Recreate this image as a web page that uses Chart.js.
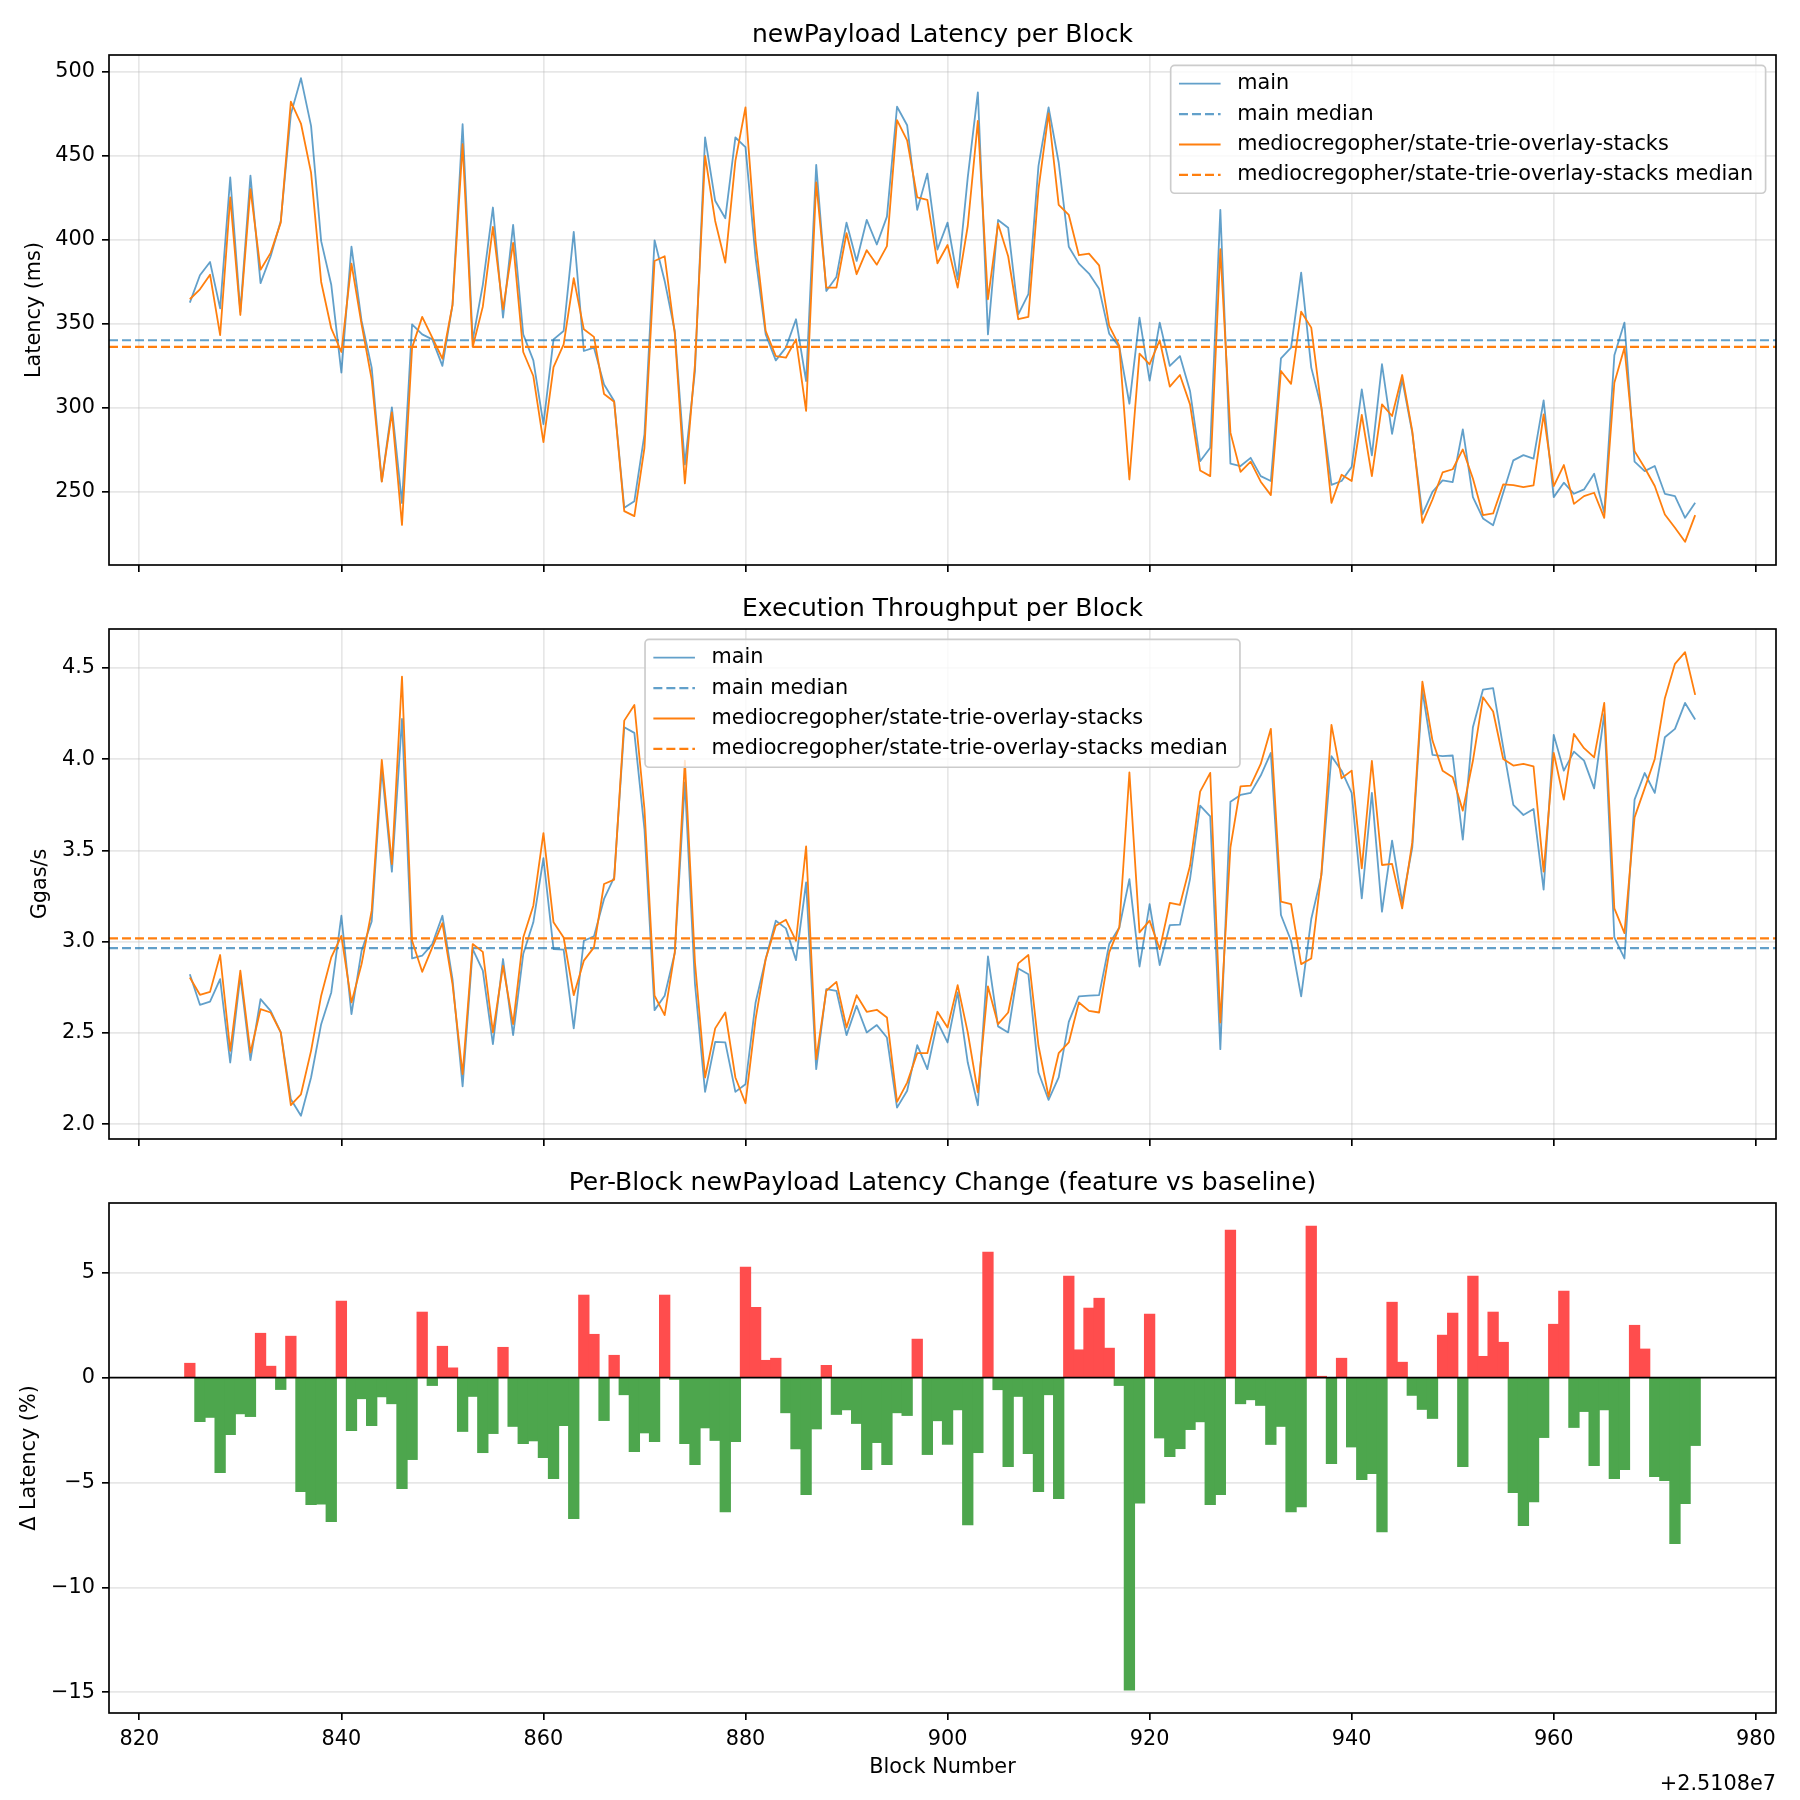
<!DOCTYPE html>
<html>
<head>
<meta charset="utf-8">
<script src="https://cdn.jsdelivr.net/npm/chart.js@4.4.0/dist/chart.umd.min.js"></script>
<style>
  body { margin: 0; background: #fff; }
  #wrap { position: relative; width: 1800px; height: 1800px; background: #fff; }
  canvas { position: absolute; left: 0; }
</style>
</head>
<body>
<div id="wrap">
  <canvas id="lat" width="1800" height="580" style="top:0px"></canvas>
  <canvas id="tput" width="1800" height="580" style="top:580px"></canvas>
  <canvas id="delta" width="1800" height="640" style="top:1160px"></canvas>
</div>
<script>
// block numbers are shown as offsets from 25108000
const blockBase = '+2.5108e7';
const firstBlock = 825;

// newPayload latency (ms)
const latencyMain = [
  362.4, 378.7, 386.6, 359.0, 436.9, 357.0, 438.0, 374.0, 390.0, 411.0,
  474.6, 496.0, 467.6, 399.0, 373.0, 320.7, 395.7, 351.5, 323.7, 256.0,
  300.0, 243.0, 349.5, 343.5, 340.5, 324.7, 361.0, 468.6, 340.0, 373.0,
  419.0, 353.5, 408.7, 343.5, 328.0, 290.0, 340.5, 345.5, 404.5, 333.6,
  335.6, 313.7, 303.8, 240.3, 244.2, 284.0, 399.5, 375.3, 345.5, 266.0,
  321.7, 460.7, 423.0, 412.6, 460.7, 455.0, 389.0, 343.5, 328.0, 335.6,
  352.5, 315.7, 444.4, 369.3, 377.7, 410.0, 387.2, 411.6, 397.0, 413.6,
  479.0, 468.0, 417.6, 439.2, 394.0, 410.0, 376.3, 436.9, 487.5, 343.5,
  411.6, 407.0, 355.4, 367.4, 443.8, 478.6, 445.8, 395.7, 385.6, 379.7,
  370.7, 343.9, 336.0, 302.2, 353.5, 316.0, 350.5, 324.7, 330.6, 309.8,
  268.0, 276.0, 417.6, 266.5, 265.1, 270.0, 259.1, 256.2, 329.2, 335.6,
  380.3, 323.7, 300.0, 253.9, 256.2, 264.6, 310.8, 271.5, 325.7, 284.3,
  316.7, 284.9, 236.3, 249.8, 256.6, 255.6, 286.9, 246.6, 233.9, 229.9,
  249.2, 268.5, 271.6, 269.5, 304.2, 246.6, 255.2, 248.6, 251.2, 260.5,
  237.3, 331.0, 350.5, 267.7, 262.1, 265.1, 248.6, 247.2, 234.3, 243.2
];
const latencyFeat = [
  364.4, 370.3, 379.0, 343.0, 425.0, 355.0, 430.0, 382.0, 392.0, 410.0,
  482.0, 469.0, 439.8, 374.7, 347.0, 333.0, 385.6, 349.5, 316.7, 255.8,
  297.0, 230.0, 335.6, 353.9, 341.5, 329.0, 361.0, 456.7, 336.0, 360.0,
  407.5, 358.4, 398.0, 333.0, 318.7, 279.4, 324.0, 337.6, 377.0, 346.5,
  342.0, 308.0, 303.4, 238.3, 235.3, 276.0, 387.2, 390.0, 344.0, 254.8,
  325.7, 449.8, 411.0, 386.2, 446.8, 478.6, 399.0, 345.5, 330.6, 329.6,
  340.5, 297.9, 433.9, 371.3, 371.3, 403.7, 379.3, 393.6, 385.0, 396.0,
  471.0, 459.0, 425.0, 423.5, 385.8, 396.7, 371.3, 408.0, 470.6, 364.4,
  409.4, 390.0, 352.5, 353.9, 429.9, 475.0, 420.6, 414.6, 390.6, 391.6,
  384.6, 348.5, 336.6, 257.1, 332.0, 325.7, 340.0, 312.4, 319.3, 301.8,
  262.5, 259.1, 394.2, 285.0, 261.7, 267.7, 255.8, 247.8, 321.7, 314.0,
  357.0, 347.5, 300.0, 243.2, 259.9, 256.2, 295.5, 259.1, 301.8, 294.9,
  319.3, 285.9, 231.3, 245.2, 261.3, 263.2, 275.0, 257.7, 235.9, 236.9,
  254.2, 253.8, 252.6, 253.6, 295.9, 253.2, 265.7, 242.6, 247.2, 249.2,
  234.3, 314.7, 335.6, 274.0, 264.1, 253.2, 236.3, 228.4, 220.0, 235.9
];
const latencyMainMedian = 340.0;
const latencyFeatMedian = 336.0;

// execution throughput (Ggas/s)
const tputMain = [
  2.822, 2.654, 2.671, 2.795, 2.338, 2.813, 2.351, 2.685, 2.621, 2.503,
  2.137, 2.046, 2.256, 2.548, 2.722, 3.142, 2.603, 2.950, 3.111, 3.946,
  3.383, 4.220, 2.908, 2.923, 2.987, 3.142, 2.795, 2.207, 2.959, 2.841,
  2.439, 2.905, 2.488, 2.932, 3.106, 3.457, 2.959, 2.956, 2.525, 3.005,
  3.029, 3.234, 3.352, 4.175, 4.144, 3.617, 2.625, 2.704, 2.938, 3.873,
  2.768, 2.177, 2.451, 2.448, 2.177, 2.219, 2.667, 2.905, 3.115, 3.073,
  2.899, 3.325, 2.302, 2.740, 2.731, 2.488, 2.649, 2.503, 2.543, 2.475,
  2.091, 2.183, 2.433, 2.302, 2.561, 2.448, 2.722, 2.338, 2.104, 2.919,
  2.536, 2.503, 2.853, 2.822, 2.283, 2.133, 2.256, 2.561, 2.700, 2.704,
  2.707, 2.987, 3.078, 3.343, 2.864, 3.206, 2.872, 3.091, 3.093, 3.343,
  3.745, 3.687, 2.411, 3.767, 3.804, 3.815, 3.910, 4.034, 3.146, 3.005,
  2.700, 3.124, 3.362, 4.016, 3.937, 3.815, 3.237, 3.815, 3.164, 3.553,
  3.215, 3.517, 4.376, 4.023, 4.016, 4.020, 3.559, 4.175, 4.381, 4.389,
  4.065, 3.749, 3.694, 3.727, 3.285, 4.133, 3.937, 4.041, 3.992, 3.840,
  4.248, 3.023, 2.908, 3.778, 3.924, 3.815, 4.120, 4.166, 4.308, 4.217
];
const tputFeat = [
  2.804, 2.709, 2.725, 2.927, 2.402, 2.841, 2.393, 2.630, 2.612, 2.503,
  2.104, 2.164, 2.402, 2.704, 2.914, 3.032, 2.667, 2.877, 3.170, 3.996,
  3.425, 4.452, 3.005, 2.835, 2.969, 3.102, 2.768, 2.274, 2.987, 2.944,
  2.503, 2.868, 2.548, 3.023, 3.197, 3.595, 3.106, 3.023, 2.707, 2.896,
  2.969, 3.316, 3.340, 4.211, 4.297, 3.727, 2.704, 2.598, 2.941, 3.992,
  2.886, 2.256, 2.525, 2.612, 2.256, 2.115, 2.576, 2.905, 3.087, 3.120,
  3.005, 3.522, 2.356, 2.731, 2.780, 2.530, 2.707, 2.616, 2.627, 2.585,
  2.122, 2.228, 2.389, 2.389, 2.616, 2.530, 2.762, 2.503, 2.174, 2.755,
  2.548, 2.612, 2.881, 2.927, 2.430, 2.152, 2.389, 2.448, 2.667, 2.621,
  2.612, 2.941, 3.078, 3.928, 3.051, 3.115, 2.959, 3.212, 3.201, 3.416,
  3.822, 3.925, 2.557, 3.517, 3.851, 3.855, 3.974, 4.166, 3.219, 3.206,
  2.877, 2.908, 3.371, 4.188, 3.895, 3.937, 3.402, 3.991, 3.420, 3.426,
  3.182, 3.544, 4.425, 4.102, 3.937, 3.901, 3.718, 3.991, 4.339, 4.261,
  4.001, 3.965, 3.974, 3.961, 3.384, 4.034, 3.778, 4.138, 4.060, 4.010,
  4.308, 3.182, 3.047, 3.681, 3.840, 4.001, 4.334, 4.522, 4.586, 4.352
];
const tputMainMedian = 2.965;
const tputFeatMedian = 3.018;

// per-block latency change (%)
const deltaPct = [
  0.67, -2.09, -1.89, -4.52, -2.71, -1.72, -1.85, 2.10, 0.53, -0.56,
  1.96, -5.43, -6.05, -6.02, -6.86, 3.63, -2.52, -1.00, -2.28, -0.91,
  -1.24, -5.29, -3.90, 3.11, -0.37, 1.48, 0.45, -2.56, -0.89, -3.57,
  -2.66, 1.43, -2.32, -3.14, -3.01, -3.81, -4.81, -2.28, -6.72, 3.92,
  2.05, -2.04, 1.05, -0.81, -3.52, -2.63, -3.04, 3.92, -0.08, -3.14,
  -4.14, -2.39, -2.99, -6.39, -3.04, 5.25, 3.34, 0.81, 0.91, -1.67,
  -3.39, -5.57, -2.44, 0.57, -1.75, -1.53, -2.18, -4.38, -3.09, -4.14,
  -1.67, -1.80, 1.82, -3.66, -2.05, -3.18, -1.53, -7.01, -3.57, 5.97,
  -0.57, -4.24, -0.89, -3.61, -5.43, -0.81, -5.76, 4.82, 1.31, 3.30,
  3.77, 1.39, -0.37, -14.89, -5.97, 3.01, -2.87, -3.76, -3.38, -2.47,
  -2.10, -6.05, -5.57, 7.02, -1.24, -1.05, -1.32, -3.18, -2.32, -6.39,
  -6.15, 7.21, 0.05, -4.09, 0.91, -3.30, -4.86, -4.57, -7.34, 3.58,
  0.72, -0.84, -1.51, -1.94, 2.01, 3.06, -4.24, 4.82, 1.00, 3.11,
  1.67, -5.48, -7.05, -5.91, -2.85, 2.53, 4.11, -2.37, -1.61, -4.19,
  -1.53, -4.81, -4.38, 2.48, 1.35, -4.71, -4.90, -7.91, -6.00, -3.23
];

const xTicks = [820, 840, 860, 880, 900, 920, 940, 960, 980];
const latTicks = [250, 300, 350, 400, 450, 500];
const tputTicks = [2.0, 2.5, 3.0, 3.5, 4.0, 4.5];
const deltaTicks = [-15, -10, -5, 0, 5];

const X_MIN = 817, X_MAX = 982;
const blocks = latencyMain.map((_, i) => firstBlock + i);
const pts = arr => arr.map((v, i) => ({x: blocks[i], y: v}));
const hline = v => [{x: X_MIN, y: v}, {x: X_MAX, y: v}];

const FONT = "'DejaVu Sans', 'Liberation Sans', sans-serif";
const FS = 20.8;
const GRID = 'rgba(176,176,176,0.3)';
const LW = 1.67;
const BLUE = 'rgba(31,119,180,0.7)';
const ORANGE = '#ff7f0e';
const RED_BAR = 'rgb(255,77,77)';
const GREEN_BAR = 'rgb(77,166,77)';

Chart.defaults.font.family = FONT;
Chart.defaults.font.size = FS;
Chart.defaults.color = '#000';

const legendItems = [
  {label: 'main', color: BLUE, dash: [], width: 1.8},
  {label: 'main median', color: BLUE, dash: [9, 4], width: 2.2},
  {label: 'mediocregopher/state-trie-overlay-stacks', color: ORANGE, dash: [], width: 1.8},
  {label: 'mediocregopher/state-trie-overlay-stacks median', color: ORANGE, dash: [9, 4], width: 2.2}
];

function decor(title, legendAlign, offsetText) {
  return {
    id: 'decor',
    afterDraw(chart) {
      const ctx = chart.ctx, a = chart.chartArea;
      ctx.save();
      ctx.strokeStyle = '#000';
      ctx.lineWidth = LW;
      ctx.strokeRect(a.left, a.top, a.right - a.left, a.bottom - a.top);

      ctx.fillStyle = '#000';
      ctx.font = `25px ${FONT}`;
      ctx.textAlign = 'center';
      ctx.textBaseline = 'middle';
      ctx.fillText(title, (a.left + a.right) / 2, a.top - 20);

      if (legendAlign) {
        const pad = 0.4 * FS, hl = 2 * FS, htp = 0.8 * FS, ls = 0.5 * FS, bap = 0.5 * FS, rowH = 20;
        ctx.font = `${FS}px ${FONT}`;
        const tw = Math.max(...legendItems.map(it => ctx.measureText(it.label).width)) + 4;
        const w = pad + hl + htp + tw + pad;
        const h = 2 * pad + legendItems.length * rowH + (legendItems.length - 1) * ls;
        const x = legendAlign === 'right' ? a.right - bap - w : (a.left + a.right) / 2 - w / 2;
        const y = a.top + bap;
        ctx.beginPath();
        ctx.roundRect(x, y, w, h, 4);
        ctx.fillStyle = 'rgba(255,255,255,0.8)';
        ctx.fill();
        ctx.strokeStyle = '#cccccc';
        ctx.lineWidth = LW;
        ctx.stroke();
        legendItems.forEach((it, i) => {
          const cy = y + pad + i * (rowH + ls) + rowH / 2;
          ctx.beginPath();
          ctx.setLineDash(it.dash);
          ctx.strokeStyle = it.color;
          ctx.lineWidth = it.width;
          ctx.moveTo(x + pad, cy);
          ctx.lineTo(x + pad + hl, cy);
          ctx.stroke();
          ctx.setLineDash([]);
          ctx.fillStyle = '#000';
          ctx.textAlign = 'left';
          ctx.textBaseline = 'middle';
          ctx.fillText(it.label, x + pad + hl + htp, cy);
        });
      }

      if (offsetText) {
        ctx.font = `${FS}px ${FONT}`;
        ctx.fillStyle = '#000';
        ctx.textAlign = 'right';
        ctx.textBaseline = 'middle';
        ctx.fillText(offsetText, a.right, chart.height - 15);
      }
      ctx.restore();
    }
  };
}

function xScale(showLabels, gridOnChart, height) {
  return {
    type: 'linear', min: X_MIN, max: X_MAX, offset: false,
    afterBuildTicks: s => { s.ticks = xTicks.map(v => ({value: v})); },
    afterFit: s => { s.height = height; s.paddingLeft = 0; s.paddingRight = 0; },
    grid: {offset: false, drawOnChartArea: gridOnChart, color: GRID, lineWidth: LW,
           tickLength: 7, tickColor: '#000', tickWidth: LW},
    border: {display: false},
    ticks: {display: showLabels, padding: 7, maxRotation: 0, autoSkip: false,
            callback: v => String(v)},
    title: showLabels ? {display: true, text: 'Block Number', padding: {top: 0, bottom: 20}} : {display: false}
  };
}

function yScale(min, max, ticks, fmt, title, titlePad, extra) {
  return Object.assign({
    type: 'linear', min, max,
    afterBuildTicks: s => { s.ticks = ticks.map(v => ({value: v})); },
    afterFit: s => { s.width = 109; s.paddingTop = 0; s.paddingBottom = 0; },
    grid: {color: GRID, lineWidth: LW, tickLength: 7, tickColor: '#000', tickWidth: LW},
    border: {display: false},
    ticks: {padding: 7, autoSkip: false, callback: fmt},
    title: {display: true, text: title, padding: {top: titlePad, bottom: 0}}
  }, extra || {});
}

function lineSets(mainArr, featArr, mainMed, featMed) {
  const base = {pointRadius: 0, tension: 0, fill: false, borderJoinStyle: 'round'};
  return [
    Object.assign({label: 'main', data: pts(mainArr), borderColor: BLUE, borderWidth: 1.8, order: 4}, base),
    Object.assign({label: 'main median', data: hline(mainMed), borderColor: BLUE, borderWidth: 2.2, borderDash: [9, 4], order: 3}, base),
    Object.assign({label: 'mediocregopher/state-trie-overlay-stacks', data: pts(featArr), borderColor: ORANGE, borderWidth: 1.8, order: 2}, base),
    Object.assign({label: 'mediocregopher/state-trie-overlay-stacks median', data: hline(featMed), borderColor: ORANGE, borderWidth: 2.2, borderDash: [9, 4], order: 1}, base)
  ];
}

const common = {
  responsive: false,
  animation: false,
  plugins: {legend: {display: false}, tooltip: {enabled: false}}
};

new Chart(document.getElementById('lat'), {
  type: 'line',
  data: {datasets: lineSets(latencyMain, latencyFeat, latencyMainMedian, latencyFeatMedian)},
  options: Object.assign({}, common, {
    layout: {autoPadding: false, padding: {top: 55, right: 24, bottom: 0, left: 0}},
    scales: {
      x: xScale(false, true, 15),
      y: yScale(206.2, 509.8, latTicks, v => String(v), 'Latency (ms)', 22)
    }
  }),
  plugins: [decor('newPayload Latency per Block', 'right', null)]
});

new Chart(document.getElementById('tput'), {
  type: 'line',
  data: {datasets: lineSets(tputMain, tputFeat, tputMainMedian, tputFeatMedian)},
  options: Object.assign({}, common, {
    layout: {autoPadding: false, padding: {top: 49, right: 24, bottom: 0, left: 0}},
    scales: {
      x: xScale(false, true, 21),
      y: yScale(1.919, 4.713, tputTicks, v => Number(v).toFixed(1), 'Ggas/s', 28.5)
    }
  }),
  plugins: [decor('Execution Throughput per Block', 'center', null)]
});

new Chart(document.getElementById('delta'), {
  type: 'bar',
  data: {
    datasets: [
      {type: 'line', label: 'zero', data: hline(0), borderColor: '#000', borderWidth: LW,
       pointRadius: 0, order: 0},
      {type: 'bar', label: 'delta', data: pts(deltaPct),
       backgroundColor: deltaPct.map(v => v >= 0 ? RED_BAR : GREEN_BAR),
       borderWidth: 0, inflateAmount: 0.6, barPercentage: 1, categoryPercentage: 1, order: 1}
    ]
  },
  options: Object.assign({}, common, {
    layout: {autoPadding: false, padding: {top: 43, right: 24, bottom: 0, left: 0}},
    scales: {
      x: xScale(true, false, 87),
      y: yScale(-15.99, 8.32, deltaTicks,
        v => v < 0 ? '\u2212' + Math.abs(v) : String(v), '\u0394 Latency (%)', 17.5,
        {z: 1, grid: {color: c => c.tick && c.tick.value === 0 ? 'rgba(0,0,0,0)' : GRID,
                      lineWidth: LW, tickLength: 7, tickColor: '#000', tickWidth: LW}})
    }
  }),
  plugins: [decor('Per-Block newPayload Latency Change (feature vs baseline)', null, blockBase)]
});
</script>
</body>
</html>
